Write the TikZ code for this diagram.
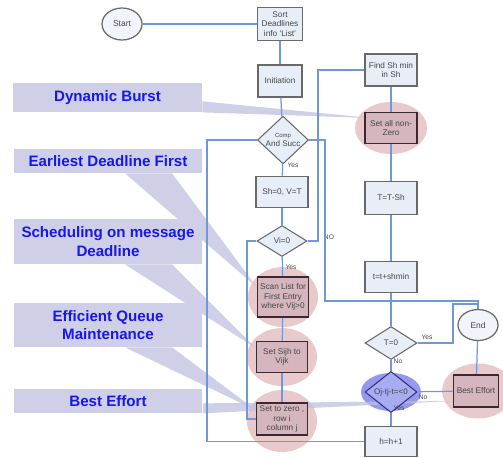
\documentclass[tikz,border=0pt]{standalone}
\usepackage{fontspec}
\setmainfont{Liberation Sans}
\usetikzlibrary{shapes.geometric,backgrounds,positioning}

\definecolor{flowblue}{RGB}{112,152,216}
\definecolor{boxfill}{RGB}{232,238,248}
\definecolor{boxline}{RGB}{105,105,105}
\definecolor{markfill}{RGB}{214,182,190}
\definecolor{markline}{RGB}{60,40,46}
\definecolor{glowpink}{RGB}{233,202,204}
\definecolor{glowblue}{RGB}{150,152,238}
\definecolor{decblue}{RGB}{168,172,240}
\definecolor{decline}{RGB}{48,48,130}
\definecolor{calloutbg}{RGB}{207,208,232}
\definecolor{wedgebg}{RGB}{191,192,224}
\definecolor{callouttext}{RGB}{22,22,238}
\definecolor{tinytext}{RGB}{70,70,70}

\begin{document}
\begin{tikzpicture}[x=0.02cm, y=-0.02cm,
        box/.style = {draw=boxline, fill=boxfill, line width=1pt, minimum width=1.04cm, minimum height=0.62cm, inner sep=0pt, align=center, text=tinytext, font=\fontsize{4.7}{5.3}\selectfont},
        mbox/.style = {box, draw=markline, fill=markfill},
        dec/.style = {diamond, draw=boxline, fill=boxfill, line width=0.6pt, minimum width=1.02cm, minimum height=0.62cm, inner sep=0pt, align=center, text=tinytext, font=\fontsize{4.6}{5.1}\selectfont},
        term/.style = {ellipse, draw=boxline, fill=boxfill!60!white, line width=0.7pt, minimum width=0.8cm, minimum height=0.64cm, inner sep=0pt, text=tinytext, font=\fontsize{4.8}{5.2}\selectfont},
        glow/.style = {fill=glowpink},
        flow/.style = {draw=flowblue, line width=0.7pt},
        lbl/.style = {inner sep=0pt, text=tinytext, font=\fontsize{3.8}{4.2}\selectfont},
        callout/.style = {fill=calloutbg, minimum width=3.78cm, inner sep=0pt, align=center, text=callouttext, font=\fontsize{8.6}{10.5}\selectfont\bfseries},
        wedge/.style = {fill=wedgebg, fill opacity=0.75},]
        \useasboundingbox (0,0) rectangle (503,457);

        \node[term] (start) at (122,24) {Start};
        \node[box, minimum width=0.9cm, minimum height=0.66cm] (sort) at (280,24) {Sort\\Deadlines\\info `List'};
        \node[box, minimum width=0.88cm, minimum height=0.64cm] (init) at (280,81) {Initiation};
        \node[dec] (comp) at (283,140) {{\fontsize{3.4}{3.8}\selectfont Comp}\\And Succ};
        \node[box] (sh0) at (282,192) {Sh=0, V=T};
        \node[dec, minimum width=1.0cm] (vi0) at (282,241) {Vi=0};
        \node[mbox, minimum width=1.02cm, minimum height=0.8cm] (scan) at (283,297) {Scan List for\\First Entry\\where Vij>0};
        \node[mbox, minimum width=1.02cm] (setsij) at (282,357) {Set Sijh to\\Vijk};
        \node[mbox, minimum width=1.02cm, minimum height=0.64cm] (setzero) at (282,419) {Set to zero ,\\row i\\column j};

        \node[box, minimum height=0.64cm] (findsh) at (391,70) {Find Sh min\\in Sh};
        \node[mbox] (setall) at (391,128) {Set all non-\\Zero};
        \node[box, minimum height=0.66cm] (tts) at (391,198) {T=T-Sh};
        \node[box] (ttsh) at (391,277) {t=t+shmin};
        \node[dec, minimum width=1.04cm, minimum height=0.66cm] (t0) at (391,343) {T=0};
        \node[dec, draw=decline, fill=decblue, minimum width=1.04cm, minimum height=0.5cm] (ojq) at (391,392) {Oj-tj-t=<0};
        \node[box, minimum height=0.6cm] (hh) at (391,441.5) {h=h+1};
        \node[term, minimum height=0.62cm] (endn) at (478,325) {End};
        \node[mbox, minimum width=0.9cm, minimum height=0.64cm] (best) at (476,391) {Best Effort};

        \node[lbl] (yes1) at (293,165) {Yes};
        \node[lbl] (yes2) at (291,267) {Yes};
        \node[lbl] (no1) at (329,237) {NO};
        \node[lbl] (yes3) at (427,337) {Yes};
        \node[lbl] (no2) at (398,361) {No};
        \node[lbl] (no3) at (423,397) {No};
        \node[lbl] (yes4) at (399,408) {Yes};

        \node[callout, minimum height=0.58cm] (db) at (107.5,97.5) {Dynamic Burst};
        \node[callout, minimum height=0.48cm] (edf) at (108,161) {Earliest Deadline First};
        \node[callout, minimum height=0.9cm] (smd) at (108,241.5) {Scheduling on message\\Deadline};
        \node[callout, minimum height=0.88cm] (eqm) at (108,325) {Efficient Queue\\Maintenance};
        \node[callout, minimum height=0.48cm] (be) at (108,401) {Best Effort};

        \coordinate (lb) at (207,441);
        \coordinate (lv) at (247,241);
        \coordinate (rv) at (318,241);
        \coordinate (rc) at (325,301);
        \coordinate (rt) at (453,304);

        \draw[style=flow, -] (start) -- (sort);
        \draw[style=flow, -] (sort) -- (init);
        \draw[style=flow, -] (init) -- (comp);
        \draw[style=flow, -] (comp) -- (sh0);
        \draw[style=flow, -] (sh0) -- (vi0);
        \draw[style=flow, -] (vi0) -- (scan);
        \draw[style=flow, -] (scan) -- (setsij);
        \draw[style=flow, -] (setsij) -- (setzero);
        \draw[style=flow, -] (hh.west) -- (hh.west -| lb) |- (comp.west);
        \draw[style=flow, -] (vi0.west) -- (vi0.west -| lv) |- (setzero.west);
        \draw[style=flow, -] (vi0.east) -- (vi0.east -| rv) |- (findsh.west);
        \draw[style=flow, -] (comp.east) -| (rc) -| (endn.north);
        \draw[style=flow, -] (t0.east) -| (rt) -| (endn.north);
        \draw[style=flow, -] (findsh) -- (setall);
        \draw[style=flow, -] (setall) -- (tts);
        \draw[style=flow, -] (tts) -- (ttsh);
        \draw[style=flow, -] (ttsh) -- (t0);
        \draw[style=flow, -] (t0) -- (ojq);
        \draw[style=flow, -] (ojq) -- (hh);
        \draw[style=flow, -] (ojq) -- (best);
        \draw[style=flow, -] (endn) -- (best);

        \begin{scope}[on background layer]
            \fill[white] (0,0) rectangle (503,457);
            \fill[glow] (setall) ellipse [x radius=0.72cm, y radius=0.52cm];
            \fill[glow] (scan) ellipse [x radius=0.7cm, y radius=0.6cm];
            \fill[glow] (setsij) ellipse [x radius=0.7cm, y radius=0.58cm];
            \fill[glow] ([yshift=-0.04cm]setzero) ellipse [x radius=0.7cm, y radius=0.62cm];
            \fill[glow] ([xshift=0.04cm]best) ellipse [x radius=0.72cm, y radius=0.55cm];
            \fill[glowblue] (ojq) ellipse [x radius=0.6cm, y radius=0.38cm];
            \fill[wedge] (db.south east) -- ++(0,-11) -- ([shift={(-20,-10)}]setall.center) -- cycle;
            \fill[wedge] ([xshift=0.34cm]edf.south) -- ([xshift=1.28cm]edf.south) -- ([yshift=0.2cm]scan.west) -- cycle;
            \fill[wedge] ([xshift=0.34cm]smd.south) -- ([xshift=1.28cm]smd.south) -- ([yshift=0.18cm]setsij.west) -- cycle;
            \fill[wedge] ([xshift=0.34cm]eqm.south) -- ([xshift=1.28cm]eqm.south) -- ([yshift=0.18cm]setzero.west) -- cycle;
            \fill[wedge] (be.south east) -- ++(0,-10) -- ([yshift=-0.2cm]best.west) -- cycle;
        \end{scope}
    \end{tikzpicture}
\end{document}
